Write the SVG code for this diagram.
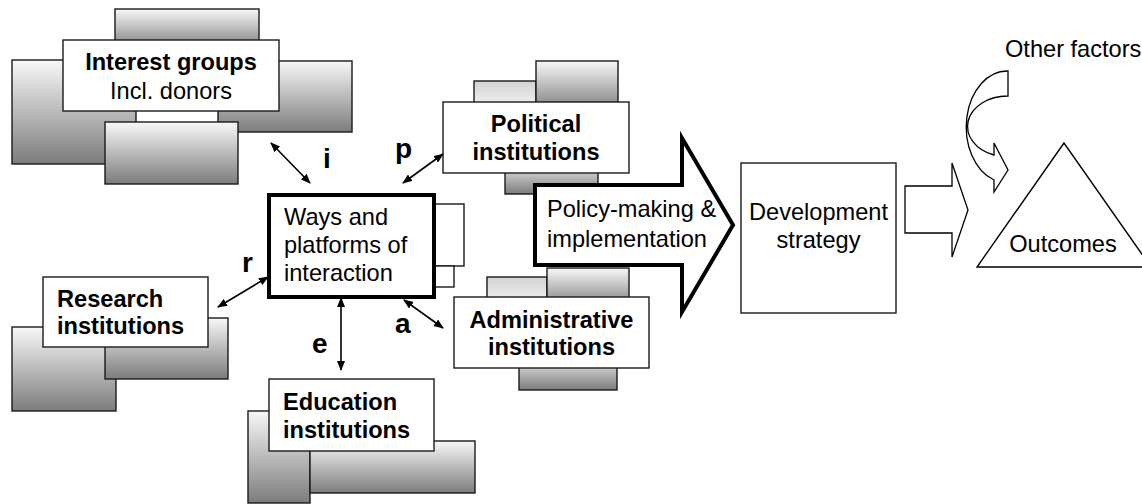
<svg xmlns="http://www.w3.org/2000/svg" width="1142" height="504" viewBox="0 0 1142 504">
<style>
.t{font-family:"Liberation Sans",Arial,sans-serif;font-size:23.6px;fill:#000}
.b{font-weight:bold}
.lbl{font-family:"Liberation Sans",Arial,sans-serif;font-size:28px;font-weight:bold;fill:#000}
.g{fill:url(#grad);stroke:#1a1a1a;stroke-width:1.4}
.gl{fill:url(#gradL);stroke:#1a1a1a;stroke-width:1.4}
.w{fill:#fff;stroke:#1a1a1a;stroke-width:1.4}
.c{fill:none;stroke:#000;stroke-width:1.6;marker-start:url(#ah);marker-end:url(#ah)}
</style>
<defs>
<linearGradient id="grad" x1="0" y1="0" x2="0" y2="1"><stop offset="0" stop-color="#f8f8f8"/><stop offset="1" stop-color="#7c7c7c"/></linearGradient>
<linearGradient id="gradL" x1="0" y1="0" x2="0" y2="1"><stop offset="0" stop-color="#d2d2d2"/><stop offset="1" stop-color="#f8f8f8"/></linearGradient>
<marker id="ah" viewBox="0 0 10 8" refX="9" refY="4" markerWidth="10" markerHeight="8" markerUnits="userSpaceOnUse" orient="auto-start-reverse"><path d="M0,0 L10,4 L0,8 Z" fill="#000"/></marker>
</defs>

<g id="interest-groups">
<rect class="g" x="12" y="60" width="124" height="104"/>
<rect class="g" x="218" y="61" width="134" height="71"/>
<rect class="g" x="115" y="9" width="144" height="40"/>
<rect class="w" x="63" y="40" width="216" height="71"/>
<rect class="g" x="105" y="122" width="133" height="62"/>
<text class="t b" x="171" y="70" text-anchor="middle">Interest groups</text>
<text class="t" x="171" y="99" text-anchor="middle">Incl. donors</text>
</g>

<g id="political-institutions">
<rect class="gl" x="474" y="81" width="62" height="30"/>
<rect class="g" x="536" y="61" width="82" height="50"/>
<rect class="g" x="505" y="160" width="93" height="34"/>
<rect class="w" x="443" y="102" width="186" height="71"/>
<text class="t b" x="536" y="132" text-anchor="middle">Political</text>
<text class="t b" x="536" y="160" text-anchor="middle">institutions</text>
</g>

<g id="administrative-institutions">
<rect class="gl" x="487" y="277" width="60" height="30"/>
<rect class="g" x="547" y="268" width="82" height="40"/>
<rect class="g" x="519" y="355" width="98" height="35"/>
<rect class="w" x="454" y="297" width="195" height="71"/>
<text class="t b" x="551.5" y="328" text-anchor="middle">Administrative</text>
<text class="t b" x="551.5" y="355" text-anchor="middle">institutions</text>
</g>

<g id="policy-arrow">
<path d="M535,185 L682,185 L682,138 L733,225 L682,312 L682,265 L535,265 Z" fill="#fff" stroke="#000" stroke-width="4" stroke-linejoin="miter"/>
<text class="t" x="547" y="217">Policy-making &amp;</text>
<text class="t" x="547" y="247">implementation</text>
</g>

<g id="ways-platforms">
<rect class="w" x="420" y="204" width="44" height="62"/>
<rect class="w" x="420" y="266" width="34" height="21"/>
<rect x="269" y="195" width="165" height="102" fill="#fff" stroke="#000" stroke-width="4"/>
<text class="t" x="284" y="225">Ways and</text>
<text class="t" x="284" y="253">platforms of</text>
<text class="t" x="284" y="281">interaction</text>
</g>

<g id="research-institutions">
<rect class="g" x="12" y="327" width="104" height="84"/>
<rect class="g" x="105" y="318" width="123" height="61"/>
<rect class="w" x="43" y="277" width="165" height="70"/>
<text class="t b" x="57" y="307">Research</text>
<text class="t b" x="57" y="334">institutions</text>
</g>

<g id="education-institutions">
<rect class="g" x="248" y="411" width="62" height="92"/>
<rect class="g" x="310" y="441" width="165" height="52"/>
<rect class="w" x="269" y="379" width="165" height="72"/>
<text class="t b" x="283" y="410">Education</text>
<text class="t b" x="283" y="438">institutions</text>
</g>

<g id="development-strategy">
<rect class="w" x="741" y="163" width="155" height="150"/>
<text class="t" x="818.5" y="220" text-anchor="middle">Development</text>
<text class="t" x="818.5" y="248" text-anchor="middle">strategy</text>
</g>

<g id="outcomes">
<path d="M1064,143 L977,267 L1151,267 Z" fill="#fff" stroke="#000" stroke-width="1.4"/>
<text class="t" x="1063" y="252" text-anchor="middle">Outcomes</text>
</g>

<g id="other-factors">
<path d="M1008,71 A41,56 0 0 0 994,180 L994,192 L1008,170 L994,143 L994,155 A40,30.4 0 0 1 1008,96 Z" fill="#fff" stroke="#000" stroke-width="1.3"/>
<text class="t" x="1005" y="57">Other factors</text>
</g>

<g id="connectors">
<line class="c" x1="271" y1="143" x2="310" y2="183"/>
<line class="c" x1="403" y1="183" x2="443" y2="154"/>
<line class="c" x1="218" y1="307" x2="268" y2="277"/>
<line class="c" x1="341" y1="298" x2="341" y2="370"/>
<line class="c" x1="404" y1="300" x2="443" y2="328"/>
<path d="M905,186 L952,186 L952,163 L968,210 L952,257 L952,233 L905,233 Z" fill="#fff" stroke="#000" stroke-width="1.3"/>
</g>

<g id="labels">
<text class="lbl" x="323" y="168">i</text>
<text class="lbl" x="395" y="158">p</text>
<text class="lbl" x="242" y="272">r</text>
<text class="lbl" x="312" y="353">e</text>
<text class="lbl" x="395" y="333">a</text>
</g>
</svg>
